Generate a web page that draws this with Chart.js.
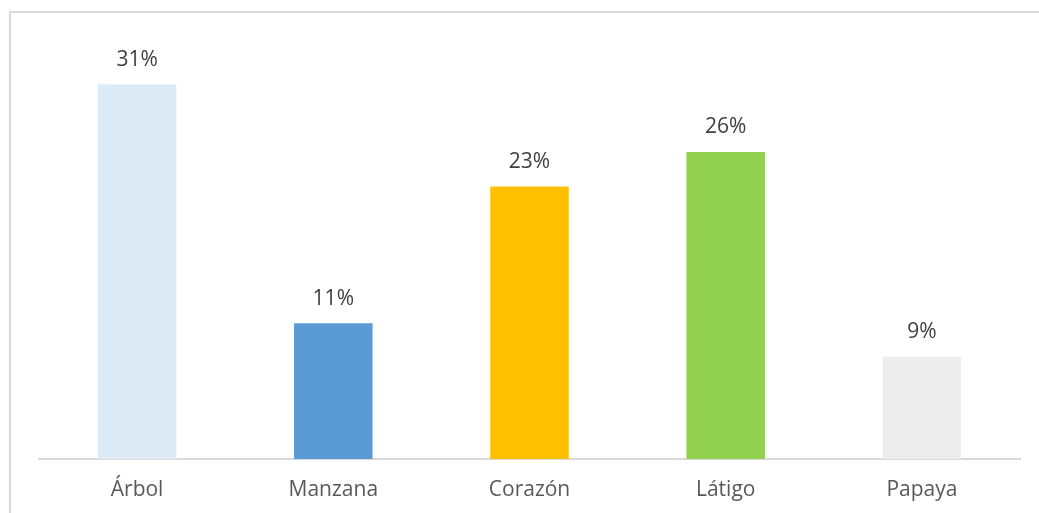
<!DOCTYPE html>
<html>
<head>
<meta charset="utf-8">
<script src="https://cdn.jsdelivr.net/npm/chart.js@4"></script>
<style>
  html, body { margin: 0; padding: 0; background: #fff; overflow: hidden; }
  #marco { position: absolute; left: 9px; top: 11px; width: 1200px; height: 700px; border: 2px solid #d9d9d9; box-sizing: border-box; }
  #grafico1 { position: absolute; left: 0; top: 0; }
</style>
</head>
<body>
<div id="marco"></div>
<canvas id="grafico1" width="1039" height="513"></canvas>
<script>
// datos
const categorias = ['Árbol', 'Manzana', 'Corazón', 'Látigo', 'Papaya'];
const porcentajes = [31.49, 11.4, 22.9, 25.8, 8.6];
const colores = ['#ddebf7', '#5b9bd5', '#ffc000', '#92d050', '#ededed'];

// etiquetas de valor encima de cada barra
const etiquetasValor = {
    id: 'etiquetasValor',
    afterDatasetsDraw(chart) {
        const ctx = chart.ctx;
        const meta = chart.getDatasetMeta(0);
        ctx.save();
        ctx.font = '21px "Open Sans"';
        ctx.fillStyle = '#404040';
        ctx.textAlign = 'center';
        ctx.textBaseline = 'bottom';
        meta.data.forEach((bar, i) => {
            ctx.fillText(Math.round(porcentajes[i]) + '%', bar.x, bar.y - 14);
        });
        ctx.restore();
    }
};

const ctx = document.getElementById('grafico1').getContext('2d');
new Chart(ctx, {
    type: 'bar',
    data: {
        labels: categorias,
        datasets: [{
            data: porcentajes,
            backgroundColor: colores,
            borderWidth: 0,
            barPercentage: 0.4,
            categoryPercentage: 1
        }]
    },
    options: {
        responsive: false,
        animation: false,
        layout: { padding: { left: 39, right: 19, top: 40, bottom: 11 } },
        plugins: {
            legend: { display: false },
            tooltip: { enabled: false }
        },
        scales: {
            y: {
                display: false,
                min: 0,
                max: 35.2
            },
            x: {
                grid: { display: false },
                border: { display: true, color: '#d9d9d9', width: 2 },
                ticks: {
                    color: '#595959',
                    font: { family: '"Open Sans"', size: 21 },
                    padding: 10
                },
                afterFit(scale) { scale.height = 43; }
            }
        }
    },
    plugins: [etiquetasValor]
});
</script>
</body>
</html>
